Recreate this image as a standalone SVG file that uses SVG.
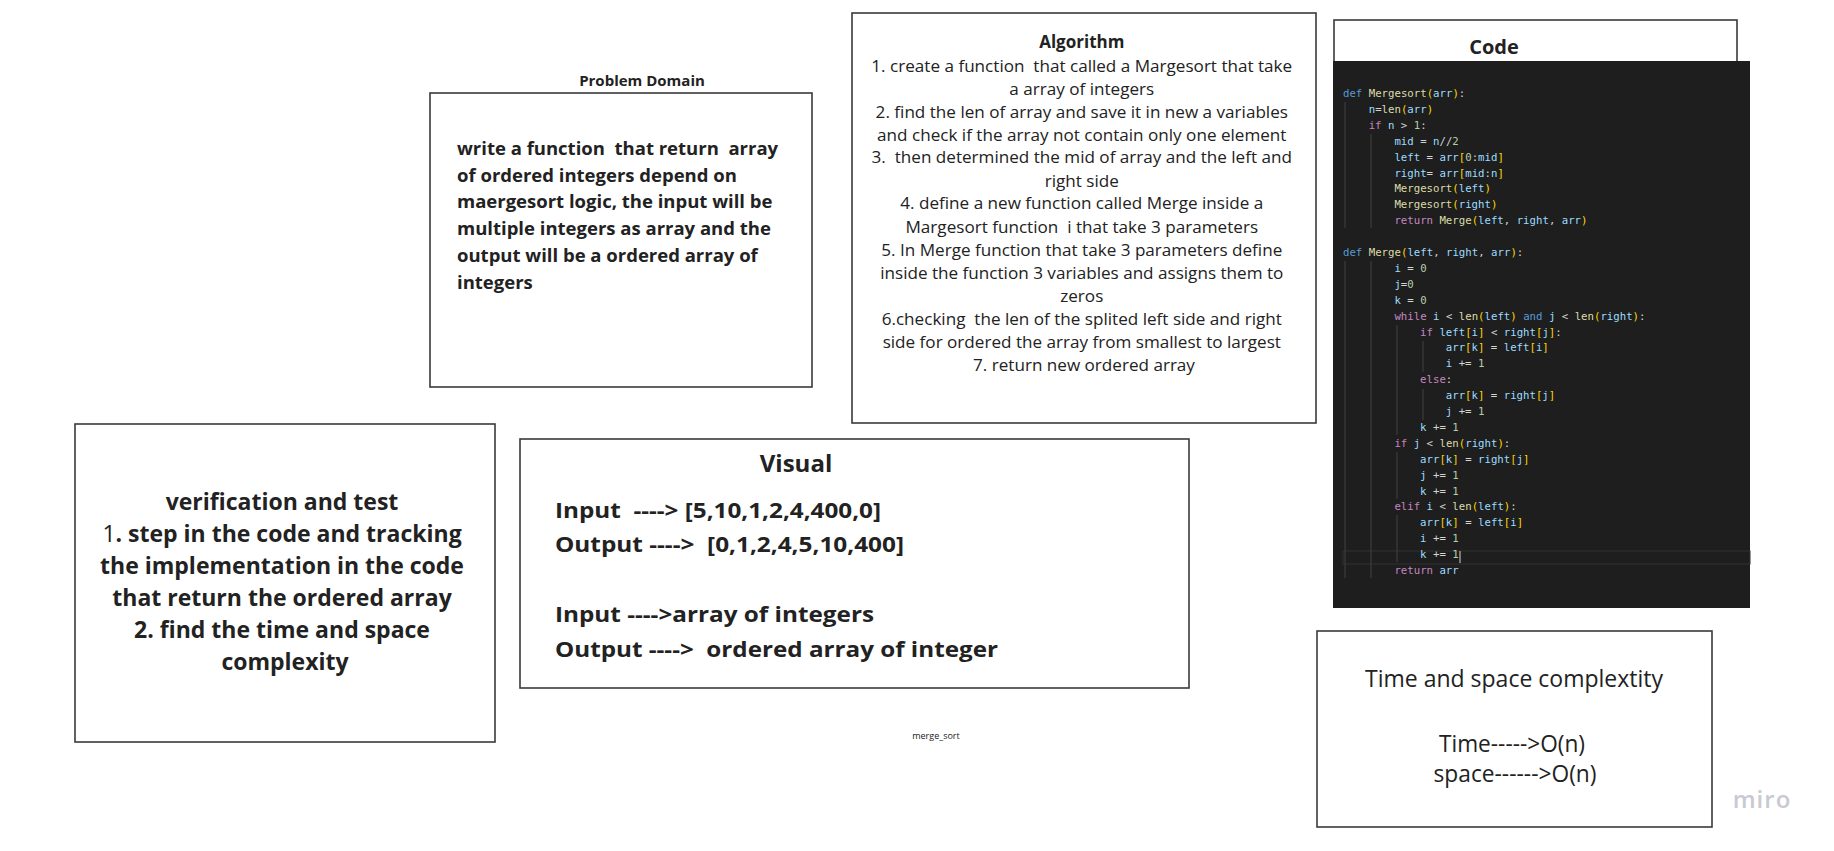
<svg xmlns="http://www.w3.org/2000/svg" width="1834" height="851" viewBox="0 0 1834 851">
<style>
.box{fill:#ffffff;stroke:#3a3a3a;stroke-width:1.6}
.sans{font-family:"Open Sans","Noto Sans","Liberation Sans",sans-serif;fill:#222222}
.b{font-weight:700}
.sb{font-weight:600}
.code{font-family:"DejaVu Sans Mono","Liberation Mono",monospace;font-size:10.7px;fill:#d4d4d4;white-space:pre}
.kw{fill:#569cd6}.fn{fill:#dcdcaa}.br{fill:#ffd700}.v{fill:#9cdcfe}.ctl{fill:#c586c0}.num{fill:#b5cea8}
.guide{stroke:#404040;stroke-width:1}
</style>
<rect x="0" y="0" width="1834" height="851" fill="#ffffff"/>

<g id="problem-domain">
<text class="sans b" x="642" y="86" font-size="15" text-anchor="middle">Problem Domain</text>
<rect class="box" x="430" y="93" width="382" height="294"/>
<text class="sans b" font-size="18.5">
<tspan x="457" y="155">write a function&#160; that return&#160; array</tspan>
<tspan x="457" y="181.7">of ordered integers depend on</tspan>
<tspan x="457" y="208.4">maergesort logic, the input will be</tspan>
<tspan x="457" y="235.1">multiple integers as array and the</tspan>
<tspan x="457" y="261.8">output will be a ordered array of</tspan>
<tspan x="457" y="288.5">integers</tspan>
</text>
</g>

<g id="algorithm">
<rect class="box" x="852" y="13" width="464" height="410"/>
<text class="sans" font-size="17.1" text-anchor="middle" fill="#333333">
<tspan class="b" x="1084" y="48" font-size="17">Algorithm</tspan>
<tspan x="1084" y="72">1. create a function&#160; that called a Margesort that take</tspan>
<tspan x="1084" y="95">a array of integers</tspan>
<tspan x="1084" y="118">2. find the len of array and save it in new a variables</tspan>
<tspan x="1084" y="141">and check if the array not contain only one element</tspan>
<tspan x="1084" y="163">3.&#160; then determined the mid of array and the left and</tspan>
<tspan x="1084" y="187">right side</tspan>
<tspan x="1084" y="209">4. define a new function called Merge inside a</tspan>
<tspan x="1084" y="233">Margesort function&#160; i that take 3 parameters</tspan>
<tspan x="1084" y="256">5. In Merge function that take 3 parameters define</tspan>
<tspan x="1084" y="279">inside the function 3 variables and assigns them to</tspan>
<tspan x="1084" y="302">zeros</tspan>
<tspan x="1084" y="325">6.checking&#160; the len of the splited left side and right</tspan>
<tspan x="1084" y="348">side for ordered the array from smallest to largest</tspan>
<tspan x="1084" y="371">7. return new ordered array</tspan>
</text>
</g>

<g id="code">
<rect class="box" x="1334" y="20" width="403" height="60"/>
<text class="sans b" x="1494" y="54" font-size="20" text-anchor="middle">Code</text>
<rect x="1333" y="61" width="417" height="547" fill="#1e1e1e"/>
<rect x="1343" y="551" width="407" height="13" fill="none" stroke="#303030" stroke-width="1"/>
<g class="guide">
<line x1="1345" y1="102" x2="1345" y2="228"/>
<line x1="1371" y1="134" x2="1371" y2="228"/>
<line x1="1345" y1="261" x2="1345" y2="578"/>
<line x1="1371" y1="261" x2="1371" y2="578"/>
<line x1="1397" y1="325" x2="1397" y2="435"/>
<line x1="1423" y1="341" x2="1423" y2="372"/>
<line x1="1423" y1="389" x2="1423" y2="420"/>
<line x1="1397" y1="452" x2="1397" y2="499"/>
<line x1="1397" y1="515" x2="1397" y2="562"/>
</g>
<line x1="1460" y1="551" x2="1460" y2="563" stroke="#d4d4d4" stroke-width="1"/>
<text class="code">
<tspan x="1343" y="97"><tspan class="kw">def</tspan> <tspan class="fn">Mergesort</tspan><tspan class="br">(</tspan><tspan class="v">arr</tspan><tspan class="br">)</tspan>:</tspan>
<tspan x="1368.7" y="112.9"><tspan class="v">n</tspan>=<tspan class="fn">len</tspan><tspan class="br">(</tspan><tspan class="v">arr</tspan><tspan class="br">)</tspan></tspan>
<tspan x="1368.7" y="128.8"><tspan class="ctl">if</tspan> <tspan class="v">n</tspan> &gt; <tspan class="num">1</tspan>:</tspan>
<tspan x="1394.4" y="144.7"><tspan class="v">mid</tspan> = <tspan class="v">n</tspan>//<tspan class="num">2</tspan></tspan>
<tspan x="1394.4" y="160.6"><tspan class="v">left</tspan> = <tspan class="v">arr</tspan><tspan class="br">[</tspan><tspan class="num">0</tspan>:<tspan class="v">mid</tspan><tspan class="br">]</tspan></tspan>
<tspan x="1394.4" y="176.5"><tspan class="v">right</tspan>= <tspan class="v">arr</tspan><tspan class="br">[</tspan><tspan class="v">mid</tspan>:<tspan class="v">n</tspan><tspan class="br">]</tspan></tspan>
<tspan x="1394.4" y="192.4"><tspan class="fn">Mergesort</tspan><tspan class="br">(</tspan><tspan class="v">left</tspan><tspan class="br">)</tspan></tspan>
<tspan x="1394.4" y="208.3"><tspan class="fn">Mergesort</tspan><tspan class="br">(</tspan><tspan class="v">right</tspan><tspan class="br">)</tspan></tspan>
<tspan x="1394.4" y="224.2"><tspan class="ctl">return</tspan> <tspan class="fn">Merge</tspan><tspan class="br">(</tspan><tspan class="v">left</tspan>, <tspan class="v">right</tspan>, <tspan class="v">arr</tspan><tspan class="br">)</tspan></tspan>
<tspan x="1343" y="256"><tspan class="kw">def</tspan> <tspan class="fn">Merge</tspan><tspan class="br">(</tspan><tspan class="v">left</tspan>, <tspan class="v">right</tspan>, <tspan class="v">arr</tspan><tspan class="br">)</tspan>:</tspan>
<tspan x="1394.4" y="271.9"><tspan class="v">i</tspan> = <tspan class="num">0</tspan></tspan>
<tspan x="1394.4" y="287.8"><tspan class="v">j</tspan>=<tspan class="num">0</tspan></tspan>
<tspan x="1394.4" y="303.7"><tspan class="v">k</tspan> = <tspan class="num">0</tspan></tspan>
<tspan x="1394.4" y="319.6"><tspan class="ctl">while</tspan> <tspan class="v">i</tspan> &lt; <tspan class="fn">len</tspan><tspan class="br">(</tspan><tspan class="v">left</tspan><tspan class="br">)</tspan> <tspan class="kw">and</tspan> <tspan class="v">j</tspan> &lt; <tspan class="fn">len</tspan><tspan class="br">(</tspan><tspan class="v">right</tspan><tspan class="br">)</tspan>:</tspan>
<tspan x="1420.1" y="335.5"><tspan class="ctl">if</tspan> <tspan class="v">left</tspan><tspan class="br">[</tspan><tspan class="v">i</tspan><tspan class="br">]</tspan> &lt; <tspan class="v">right</tspan><tspan class="br">[</tspan><tspan class="v">j</tspan><tspan class="br">]</tspan>:</tspan>
<tspan x="1445.8" y="351.4"><tspan class="v">arr</tspan><tspan class="br">[</tspan><tspan class="v">k</tspan><tspan class="br">]</tspan> = <tspan class="v">left</tspan><tspan class="br">[</tspan><tspan class="v">i</tspan><tspan class="br">]</tspan></tspan>
<tspan x="1445.8" y="367.3"><tspan class="v">i</tspan> += <tspan class="num">1</tspan></tspan>
<tspan x="1420.1" y="383.2"><tspan class="ctl">else</tspan>:</tspan>
<tspan x="1445.8" y="399.1"><tspan class="v">arr</tspan><tspan class="br">[</tspan><tspan class="v">k</tspan><tspan class="br">]</tspan> = <tspan class="v">right</tspan><tspan class="br">[</tspan><tspan class="v">j</tspan><tspan class="br">]</tspan></tspan>
<tspan x="1445.8" y="415"><tspan class="v">j</tspan> += <tspan class="num">1</tspan></tspan>
<tspan x="1420.1" y="430.9"><tspan class="v">k</tspan> += <tspan class="num">1</tspan></tspan>
<tspan x="1394.4" y="446.8"><tspan class="ctl">if</tspan> <tspan class="v">j</tspan> &lt; <tspan class="fn">len</tspan><tspan class="br">(</tspan><tspan class="v">right</tspan><tspan class="br">)</tspan>:</tspan>
<tspan x="1420.1" y="462.7"><tspan class="v">arr</tspan><tspan class="br">[</tspan><tspan class="v">k</tspan><tspan class="br">]</tspan> = <tspan class="v">right</tspan><tspan class="br">[</tspan><tspan class="v">j</tspan><tspan class="br">]</tspan></tspan>
<tspan x="1420.1" y="478.6"><tspan class="v">j</tspan> += <tspan class="num">1</tspan></tspan>
<tspan x="1420.1" y="494.5"><tspan class="v">k</tspan> += <tspan class="num">1</tspan></tspan>
<tspan x="1394.4" y="510.4"><tspan class="ctl">elif</tspan> <tspan class="v">i</tspan> &lt; <tspan class="fn">len</tspan><tspan class="br">(</tspan><tspan class="v">left</tspan><tspan class="br">)</tspan>:</tspan>
<tspan x="1420.1" y="526.3"><tspan class="v">arr</tspan><tspan class="br">[</tspan><tspan class="v">k</tspan><tspan class="br">]</tspan> = <tspan class="v">left</tspan><tspan class="br">[</tspan><tspan class="v">i</tspan><tspan class="br">]</tspan></tspan>
<tspan x="1420.1" y="542.2"><tspan class="v">i</tspan> += <tspan class="num">1</tspan></tspan>
<tspan x="1420.1" y="558.1"><tspan class="v">k</tspan> += <tspan class="num">1</tspan></tspan>
<tspan x="1394.4" y="574"><tspan class="ctl">return</tspan> <tspan class="v">arr</tspan></tspan>
</text>
</g>

<g id="verification">
<rect class="box" x="75" y="424" width="420" height="318"/>
<text class="sans b" font-size="23" text-anchor="middle">
<tspan x="285" y="510">verification and test</tspan>
<tspan x="285" y="542"><tspan font-weight="400">1</tspan>. step in the code and tracking</tspan>
<tspan x="285" y="574">the implementation in the code</tspan>
<tspan x="285" y="605.5">that return the ordered array</tspan>
<tspan x="285" y="637.5">2. find the time and space</tspan>
<tspan x="285" y="669.5">complexity</tspan>
</text>
</g>

<g id="visual">
<rect class="box" x="520" y="439" width="669" height="249"/>
<text class="sans b" x="796" y="472" font-size="24" text-anchor="middle">Visual</text>
<text class="sans b" font-size="22">
<tspan x="555" y="518" textLength="326" lengthAdjust="spacingAndGlyphs">Input&#160; ----&gt; [5,10,1,2,4,400,0]</tspan>
<tspan x="555" y="552" textLength="349" lengthAdjust="spacingAndGlyphs">Output ----&gt;&#160; [0,1,2,4,5,10,400]</tspan>
<tspan x="555" y="622" textLength="319" lengthAdjust="spacingAndGlyphs">Input ----&gt;array of integers</tspan>
<tspan x="555" y="657" textLength="443" lengthAdjust="spacingAndGlyphs">Output ----&gt;&#160; ordered array of integer</tspan>
</text>
</g>

<g id="merge-sort-label">
<text class="sans" x="936" y="739" font-size="9" text-anchor="middle" fill="#444444">merge_sort</text>
</g>

<g id="complexity">
<rect class="box" x="1317" y="631" width="395" height="196"/>
<text class="sans" font-size="23" text-anchor="middle" fill="#2a2a2a">
<tspan x="1517" y="687">Time and space complextity</tspan>
<tspan x="1515" y="752" textLength="146" lengthAdjust="spacingAndGlyphs">Time-----&gt;O(n)</tspan>
<tspan x="1515" y="782" textLength="163" lengthAdjust="spacingAndGlyphs">space------&gt;O(n)</tspan>
</text>
</g>

<text x="1762" y="808" font-family="'Open Sans','Noto Sans',sans-serif" font-size="24" font-weight="600" fill="#c9c9d3" text-anchor="middle" letter-spacing="1">miro</text>
</svg>
